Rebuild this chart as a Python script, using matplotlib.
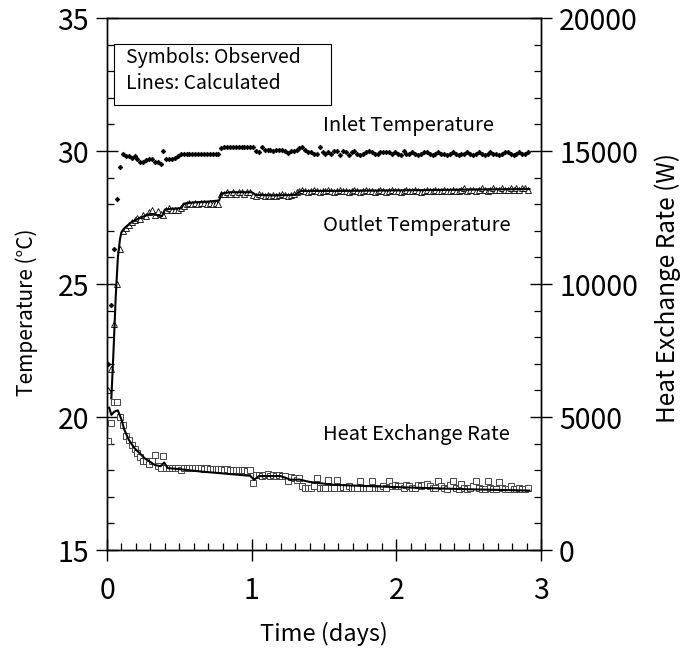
import numpy as np
import matplotlib.pyplot as plt
from matplotlib.ticker import MultipleLocator
from matplotlib.patches import Rectangle

plt.rcParams["font.family"] = ["Noto Sans CJK JP", "DejaVu Sans"]

# observed data, one reading every 0.02 days starting at 0.01
inlet_obs = [22.0, 24.2, 26.3, 28.2, 29.4, 29.9, 29.8, 29.8, 29.75, 29.8,
             29.7, 29.6, 29.6, 29.65, 29.7, 29.7, 29.6, 29.6, 29.5, 30.0,
             29.7, 29.7, 29.7, 29.75, 29.8, 29.9,
             29.9, 29.9, 29.9, 29.9, 29.9, 29.9, 29.9, 29.9, 29.9, 29.9, 29.9, 29.9, 29.9,
             30.1,
             30.15, 30.15, 30.15, 30.15, 30.15, 30.15, 30.15, 30.15, 30.15, 30.15,
             30.15, 30.0, 29.95, 30.15, 30.05, 30.05, 30.05, 30.0, 30.05, 30.05, 30.05,
             30.0, 29.93, 30.0, 30.0, 30.05, 30.1, 30.15, 30.05, 29.95, 29.95,
             29.9, 29.9, 30.15, 29.95, 29.9, 29.95, 29.9, 30.0, 30.0, 29.85,
             30.0, 29.95, 29.85, 29.95, 30.0, 29.9, 29.85, 29.9,
             29.95, 30.0, 29.95, 29.9, 29.9, 29.95, 29.95, 29.95, 29.95, 29.9,
             29.95, 29.9, 29.85, 30.0, 29.9, 29.9, 29.95, 29.9, 29.85, 29.9,
             29.95, 29.95, 29.9, 29.85, 29.9, 29.95, 29.9, 29.9, 29.85, 29.9,
             29.95, 29.9, 29.85, 29.9, 29.9, 29.95, 29.9, 29.85, 29.9, 29.95,
             29.9, 29.85, 29.9, 29.95, 29.9, 29.9, 29.85, 29.9, 29.95, 29.95,
             29.9, 29.85, 29.9, 29.95, 29.9, 29.9, 29.95]

outlet_obs = [21.0, 21.8, 23.5, 25.0, 26.3, 27.0, 27.1, 27.2, 27.35, 27.4,
              27.5, 27.45, 27.6, 27.55, 27.7, 27.8, 27.6, 27.75, 27.65, 27.6,
              27.8, 27.85, 27.8, 27.8, 27.8, 27.85, 27.95,
              28.0, 28.05, 28.0, 28.05, 28.0, 28.05, 28.05, 28.0, 28.05, 28.0, 28.05, 28.0,
              28.4,
              28.4, 28.45, 28.4, 28.45, 28.4, 28.45, 28.45, 28.4, 28.45, 28.45,
              28.35, 28.3, 28.4, 28.35, 28.3, 28.35, 28.3, 28.35, 28.3, 28.35,
              28.4, 28.35, 28.3, 28.35, 28.4, 28.45,
              28.5, 28.55, 28.5, 28.45, 28.5, 28.55, 28.5, 28.45, 28.5, 28.5,
              28.55, 28.5, 28.45, 28.5, 28.55, 28.5, 28.5, 28.45, 28.5, 28.55,
              28.5, 28.45, 28.5, 28.55, 28.5, 28.5, 28.45, 28.5, 28.55, 28.5,
              28.45, 28.5, 28.55, 28.5, 28.5, 28.45, 28.5, 28.55, 28.5, 28.5,
              28.55, 28.5, 28.45, 28.5, 28.55, 28.5, 28.5, 28.55, 28.5, 28.5,
              28.55, 28.5, 28.5, 28.55, 28.5, 28.5, 28.55, 28.6, 28.5, 28.55,
              28.55, 28.5, 28.55, 28.6, 28.55, 28.5, 28.55, 28.6, 28.55, 28.55,
              28.6, 28.55, 28.55, 28.6, 28.55, 28.6, 28.55, 28.6, 28.6, 28.55]

heat_obs = [4100, 4770, 5560, 5560, 5000, 4700, 4300, 4150, 3950, 3780,
            3650, 3500, 3360, 3350, 3240, 3330, 3580, 3170, 3100, 3540, 3100, 3080,
            3090, 3080, 3090, 2990, 3080, 3090, 3080, 3070, 3080, 3070,
            3070, 3060, 3070, 3060, 3050, 3040, 3050, 3040, 3020, 3030,
            3020, 3000, 3010, 2990, 3000, 2990, 2980, 2990,
            2510,
            2830, 2830, 2800, 2830, 2850, 2790, 2830, 2800, 2830, 2780, 2800, 2600, 2750, 2700,
            2650, 2700, 2400, 2330, 2350, 2330, 2420, 2700, 2330, 2350,
            2330, 2650, 2350, 2330, 2650, 2330, 2360, 2330, 2400, 2330,
            2350, 2330, 2600, 2330, 2350, 2330, 2600, 2330, 2350, 2330,
            2400, 2330, 2600, 2400, 2450, 2420, 2400, 2350, 2450, 2400,
            2330, 2350, 2450, 2400, 2460, 2500, 2400, 2320, 2350, 2600,
            2400, 2330, 2300, 2450, 2600, 2330, 2300, 2500, 2330, 2300,
            2350, 2400, 2600, 2350, 2280, 2300, 2600, 2350, 2280, 2300,
            2550, 2330, 2300, 2280, 2400, 2300, 2280, 2330, 2300, 2280, 2330]

t_inlet = 0.01 + 0.02 * np.arange(len(inlet_obs))
t_outlet = 0.01 + 0.02 * np.arange(len(outlet_obs))
t_heat = 0.01 + 0.02 * np.arange(len(heat_obs))

# calculated curves
t_out_calc = [0.03, 0.045, 0.06, 0.075, 0.09, 0.1, 0.12, 0.17, 0.23, 0.3, 0.34, 0.38, 0.4,
              0.45, 0.51, 0.53, 0.6, 0.7, 0.775, 0.79, 0.85, 1.0, 1.03, 1.15, 1.3, 1.34,
              1.6, 2.0, 2.5, 2.92]
out_calc = [20.7, 22.5, 24.5, 26.0, 26.7, 26.95, 27.1, 27.33, 27.49, 27.64, 27.6, 27.55, 27.8,
            27.83, 27.85, 28.02, 28.07, 28.1, 28.14, 28.4, 28.45, 28.45, 28.35, 28.33, 28.35, 28.5,
            28.5, 28.52, 28.55, 28.57]

t_heat_calc = [0.015, 0.03, 0.05, 0.075, 0.1, 0.12, 0.15, 0.19, 0.26, 0.33, 0.37, 0.395, 0.42,
               0.5, 0.65, 0.8, 0.99, 1.016, 1.05, 1.2, 1.27, 1.33, 1.4, 1.57, 2.03, 2.49, 2.92]
heat_calc = [5350, 5080, 5200, 5250, 4900, 4520, 4150, 3830, 3450, 3200, 3150, 3290, 3080,
             3040, 2950, 2880, 2790, 2640, 2780, 2780, 2640, 2650, 2560, 2450, 2360, 2285, 2235]

fig = plt.figure(figsize=(6.94, 6.48), dpi=100)
ax = fig.add_axes([0.1542, 0.1512, 0.6254, 0.821])
ax2 = ax.twinx()

ax.plot(t_inlet, inlet_obs, "D", color="black", ms=2.4, mew=0.5, ls="none")
ax.plot(t_outlet, outlet_obs, "^", mfc="white", mec="black", ms=4.2, mew=0.6, ls="none")
ax.plot(t_out_calc, out_calc, "-", color="black", lw=1.5)
ax2.plot(t_heat, heat_obs, "s", mfc="white", mec="#444444", ms=4.5, mew=0.7, ls="none")
ax2.plot(t_heat_calc, heat_calc, "-", color="black", lw=1.5)

ax.set_xlim(0, 3)
ax.set_ylim(15, 35)
ax2.set_ylim(0, 20000)

for a in (ax, ax2):
    for s in a.spines.values():
        s.set_linewidth(1.0)
    a.tick_params(which="major", direction="inout", length=16, width=1.0, labelsize=20.5, pad=5)
    a.tick_params(which="minor", direction="in", length=5, width=0.9)

ax.xaxis.set_major_locator(MultipleLocator(1))
ax.xaxis.set_minor_locator(MultipleLocator(0.1))
ax.yaxis.set_major_locator(MultipleLocator(5))
ax.yaxis.set_minor_locator(MultipleLocator(1))
ax2.yaxis.set_major_locator(MultipleLocator(5000))
ax2.yaxis.set_minor_locator(MultipleLocator(1000))
ax.tick_params(axis="x", pad=11)

ax.set_xlabel("Time (days)", fontsize=17)
ax.set_ylabel("Temperature (°C)", fontsize=15)
ax2.set_ylabel("Heat Exchange Rate (W)", fontsize=17.5)
ax.xaxis.set_label_coords(0.5, -0.136)
ax.yaxis.set_label_coords(-0.16, 0.447)
ax2.yaxis.set_label_coords(1.262, 0.493)

ax.text(1.49, 30.97, "Inlet Temperature", fontsize=14.5, va="center")
ax.text(1.49, 27.2, "Outlet Temperature", fontsize=14.5, va="center")
ax.text(1.49, 19.33, "Heat Exchange Rate", fontsize=14.5, va="center")

ax.add_patch(Rectangle((0.016, 0.836), 0.5, 0.115, transform=ax.transAxes,
                       fill=False, ec="black", lw=0.8, zorder=5))
ax.text(0.044, 0.925, "Symbols: Observed", transform=ax.transAxes, fontsize=14, va="center")
ax.text(0.044, 0.876, "Lines: Calculated", transform=ax.transAxes, fontsize=14, va="center")

fig.savefig("out.png", dpi=100)
